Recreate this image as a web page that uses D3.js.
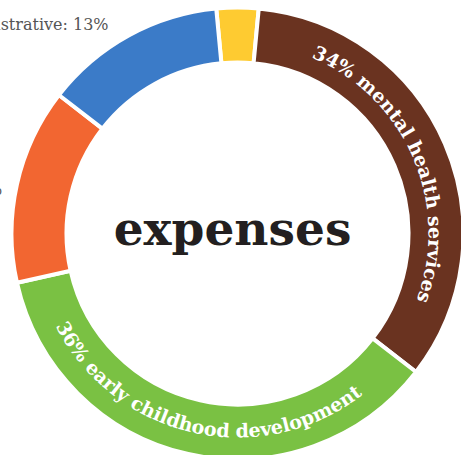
<!DOCTYPE html>
<html>
<head>
<meta charset="utf-8">
<script src="https://cdn.jsdelivr.net/npm/d3@7"></script>
<style>
  body { margin: 0; background: #fff; }
  svg { display: block; }
</style>
</head>
<body>
<div id="chart"></div>
<script>
// expense categories, clockwise from the top
var categories = ['fundraising', 'mental health services', 'early childhood development', 'family support', 'administrative'];
var values = [3, 34, 36, 14, 13];
var colors = ['#fecb31', '#6a3320', '#7ac143', '#f26631', '#3b7bc8'];
// which slices get a curved label inside the ring
var insideLabels = ['mental health services', 'early childhood development'];

const width = 461;
const height = 455;
const outerRadius = 226;
const innerRadius = 171;
const cx = 237.5;
const cy = 233.5;

var svg = d3.select('#chart')
	.append('svg')
	.attr('width', width)
	.attr('height', height);

var g = svg.append('g')
	.attr('transform', `translate(${cx},${cy})`);

var offset = -values[0] / 100 * Math.PI; // first slice straddles 12 o'clock
var pie = d3.pie()
	.sort(null)
	.startAngle(offset)
	.endAngle(2 * Math.PI + offset);

var data = pie(values).map((d, i) => Object.assign(d, {name: categories[i], color: colors[i]}));

var arc = d3.arc()
	.innerRadius(innerRadius)
	.outerRadius(outerRadius);

g.selectAll('path.slice')
	.data(data)
	.enter()
	.append('path')
	.attr('class', 'slice')
	.attr('d', arc)
	.attr('fill', d => d.color)
	.attr('stroke', '#fff')
	.attr('stroke-width', 4);

// curved labels, bottom ones run the other way so they read upright
function labelPath(d) {
	var mid = (d.startAngle + d.endAngle) / 2;
	var bottom = mid > Math.PI / 2 && mid < 3 * Math.PI / 2;
	var r = bottom ? 204 : 191;
	var a0 = d.startAngle, a1 = d.endAngle;
	var p0 = [r * Math.sin(a0), -r * Math.cos(a0)];
	var p1 = [r * Math.sin(a1), -r * Math.cos(a1)];
	var large = (a1 - a0) > Math.PI ? 1 : 0;
	if (bottom) {
		return `M${p1[0]},${p1[1]} A${r},${r} 0 ${large} 0 ${p0[0]},${p0[1]}`;
	}
	return `M${p0[0]},${p0[1]} A${r},${r} 0 ${large} 1 ${p1[0]},${p1[1]}`;
}

var inside = data.filter(d => insideLabels.includes(d.name));

g.selectAll('path.label-path')
	.data(inside)
	.enter()
	.append('path')
	.attr('class', 'label-path')
	.attr('id', (d, i) => 'lp' + i)
	.attr('d', labelPath)
	.attr('fill', 'none');

g.selectAll('text.inner')
	.data(inside)
	.enter()
	.append('text')
	.attr('class', 'inner')
	.attr('font-family', 'DejaVu Serif')
	.attr('font-weight', 'bold')
	.attr('font-size', 19)
	.attr('fill', '#fff')
	.append('textPath')
	.attr('href', (d, i) => '#lp' + i)
	.attr('startOffset', '50%')
	.attr('text-anchor', 'middle')
	.text(d => d.data + '% ' + d.name);

// outside labels for the small slices
const labelRadius = 238;
const labelShift = 4 * Math.PI / 180;
var outside = data.filter(d => !insideLabels.includes(d.name));
g.selectAll('text.outer')
	.data(outside)
	.enter()
	.append('text')
	.attr('class', 'outer')
	.attr('x', d => labelRadius * Math.sin((d.startAngle + d.endAngle) / 2 - labelShift))
	.attr('y', d => -labelRadius * Math.cos((d.startAngle + d.endAngle) / 2 - labelShift))
	.attr('dy', '-0.2em')
	.attr('text-anchor', 'end')
	.attr('font-family', 'DejaVu Serif')
	.attr('font-size', 16)
	.attr('fill', '#555')
	.text(d => d.name + ': ' + d.data + '%');

g.append('text')
	.attr('x', -5)
	.attr('y', 11)
	.attr('text-anchor', 'middle')
	.attr('font-family', 'DejaVu Serif')
	.attr('font-weight', 'bold')
	.attr('font-size', 47)
	.attr('fill', '#231f20')
	.text('expenses');
</script>
</body>
</html>
